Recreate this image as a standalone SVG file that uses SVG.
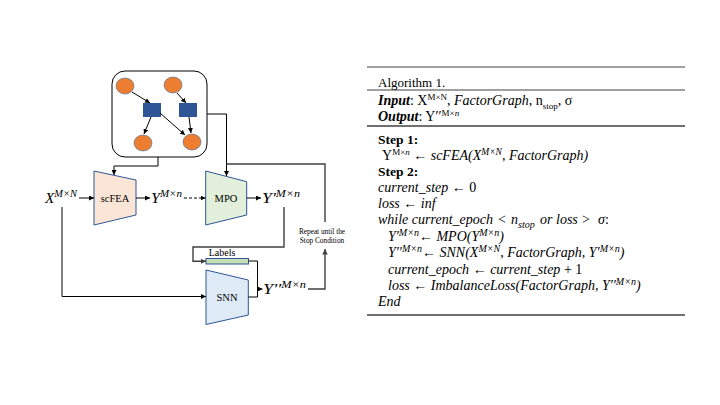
<svg xmlns="http://www.w3.org/2000/svg" width="720" height="405" viewBox="0 0 720 405">
<defs>
<marker id="ah" viewBox="0 0 10 10" refX="10" refY="5" markerWidth="5" markerHeight="5" markerUnits="userSpaceOnUse" orient="auto"><path d="M0,0 L10,5 L0,10 z" fill="#000"/></marker>
<marker id="ahg" viewBox="0 0 10 10" refX="10" refY="5" markerWidth="5.5" markerHeight="5.5" markerUnits="userSpaceOnUse" orient="auto"><path d="M0,0 L10,5 L0,10 z" fill="#404040"/></marker>
<style>
.ln{fill:none;stroke:#000;stroke-width:1}
.lg{fill:none;stroke:#404040;stroke-width:1.4}
.var{fill:#ed7d31;stroke:#41719c;stroke-width:0.6}
.fac{fill:#2f5597}
.trap{stroke:#2f5597;stroke-width:1}
.nt{font-family:"Liberation Serif",serif;font-size:10.5px;text-anchor:middle;fill:#000}
.mt{font-family:"Liberation Serif",serif;font-style:italic;font-size:14px;fill:#000}
.vt{font-family:"Liberation Serif",serif;font-style:italic;font-size:14px;fill:#000}
.at{font-family:"Liberation Serif",serif;font-size:13px;fill:#000}
.at14{font-family:"Liberation Serif",serif;font-size:14px;fill:#000}
.b{font-weight:bold}
.i{font-style:italic}
.u{font-style:normal}
.sm{font-family:"Liberation Serif",serif;font-size:7.3px;text-anchor:middle;fill:#000}
</style>
</defs>
<g id="factor-graph">
<rect x="112" y="71" width="95" height="86" rx="13" fill="#fff" stroke="#000" stroke-width="1"/>
<ellipse class="var" cx="125" cy="86" rx="9" ry="8"/>
<ellipse class="var" cx="173" cy="85" rx="9" ry="8"/>
<ellipse class="var" cx="143" cy="143" rx="9" ry="8"/>
<ellipse class="var" cx="192" cy="142" rx="9" ry="8"/>
<rect class="fac" x="143" y="103" width="18" height="14"/>
<rect class="fac" x="179" y="103" width="18" height="14"/>
<g class="ln" marker-end="url(#ah)">
<path d="M132,92 L150,103"/>
<path d="M177,93 L186,103"/>
<path d="M151,117 L144,134"/>
<path d="M160,113 L185,135"/>
<path d="M189,117 L191,133"/>
</g>
</g>
<g id="scFEA">
<polygon class="trap" points="94,171 136,180 136,215 94,225" fill="#fbe5d6"/>
<text class="nt" x="115" y="201.5">scFEA</text>
</g>
<g id="MPO">
<polygon class="trap" points="205.7,171 246.7,181.7 246.7,215 205.7,225" fill="#e2efda"/>
<text class="nt" x="226" y="201.5">MPO</text>
</g>
<g id="SNN">
<polygon class="trap" points="206,270 248.3,280 248.3,315 206,324.5" fill="#deebf7"/>
<text class="nt" x="227" y="300.5">SNN</text>
</g>
<g id="Labels">
<rect x="206" y="258.5" width="42.5" height="5.5" fill="#c5e0b4" stroke="#2f5597" stroke-width="1"/>
<text class="nt" x="222" y="255.5" style="font-size:10px">Labels</text>
</g>
<g id="labels-vars">
<text class="vt" x="45" y="202.5" textLength="32" lengthAdjust="spacingAndGlyphs">X<tspan dy="-5.5" font-size="9.5">M×N</tspan></text>
<text class="vt" x="151" y="202.5" textLength="31" lengthAdjust="spacingAndGlyphs">Y<tspan dy="-5.5" font-size="9.5">M×n</tspan></text>
<text class="vt" x="262" y="202.5" textLength="38" lengthAdjust="spacingAndGlyphs">Y′<tspan dy="-5.5" font-size="9.5">M×n</tspan></text>
<text class="vt" x="263" y="293.5" textLength="43" lengthAdjust="spacingAndGlyphs">Y′′<tspan dy="-5.5" font-size="9.5">M×n</tspan></text>
<text class="sm" x="322" y="234">Repeat until the</text>
<text class="sm" x="322" y="243">Stop Condition</text>
</g>
<g id="connectors">
<path class="ln" d="M158,157 V166 H114 V175" marker-end="url(#ah)"/>
<path class="ln" d="M207,114 H226.5 V176" marker-end="url(#ah)"/>
<path class="lg" d="M325,222 V164 H226.5"/>
<path class="lg" d="M308,289 H325 V249" marker-end="url(#ahg)"/>
<path class="ln" d="M79,198 H94" marker-end="url(#ah)"/>
<path class="ln" d="M62,207 V296.5 H206" marker-end="url(#ah)"/>
<path class="ln" d="M136,198 H150" marker-end="url(#ah)"/>
<path class="ln" d="M184,198 H205.5" stroke-dasharray="3,2" marker-end="url(#ah)"/>
<path class="ln" d="M246.7,198 H261" marker-end="url(#ah)"/>
<path class="lg" d="M284,207 V247 H193 V261.3 H206" marker-end="url(#ahg)"/>
<path class="ln" d="M248.5,261 H257.5 V297 H248.3"/>
<path class="ln" d="M257.5,289 H262.5" marker-end="url(#ah)"/>
</g>
<g id="algorithm">
<line x1="367" y1="67" x2="685" y2="67" stroke="#808080" stroke-width="1.3"/>
<line x1="367" y1="90" x2="685" y2="90" stroke="#808080" stroke-width="1.3"/>
<line x1="367" y1="126" x2="685" y2="126" stroke="#404040" stroke-width="1.3"/>
<line x1="367" y1="315" x2="685" y2="315" stroke="#404040" stroke-width="1.3"/>
<text class="at" x="378" y="87">Algorithm 1.</text>
<text class="at14" x="378" y="105"><tspan class="b i">Input</tspan>: X<tspan dy="-5" font-size="9">M×N</tspan><tspan dy="5">, </tspan><tspan class="i">FactorGraph</tspan>, n<tspan dy="3.5" font-size="9">stop</tspan><tspan dy="-3.5">, σ</tspan></text>
<text class="at14" x="378" y="121"><tspan class="b i">Output</tspan>: Y′′<tspan dy="-5" font-size="9">M×<tspan class="i">n</tspan></tspan></text>
<text class="at b" x="378" y="144" style="font-size:13.5px">Step 1:</text>
<text class="at14" x="382" y="160">Y<tspan dy="-5" font-size="9">M×<tspan class="i">n</tspan></tspan><tspan dy="5" class="i"> ← scFEA(X</tspan><tspan class="i" dy="-5" font-size="9.5">M×N</tspan><tspan class="i" dy="5">, FactorGraph)</tspan></text>
<text class="at b" x="378" y="176" style="font-size:13.5px">Step 2:</text>
<text class="mt" x="378" y="192">current_step <tspan class="u">← 0</tspan></text>
<text class="mt" x="378" y="208">loss <tspan class="u">←</tspan> inf</text>
<text class="mt" x="378" y="224">while current_epoch<tspan class="u" x="498">&lt;</tspan><tspan x="511">n</tspan><tspan dy="3.5" font-size="10">stop</tspan><tspan dy="-3.5" x="540">or</tspan><tspan x="556">loss</tspan><tspan class="u" x="582">&gt;</tspan><tspan x="598">σ</tspan><tspan class="u">:</tspan></text>
<text class="mt" x="388" y="241">Y′<tspan dy="-5" font-size="10">M×n</tspan><tspan dy="5" class="u">←</tspan> MPO(Y<tspan dy="-5" font-size="10">M×n</tspan><tspan dy="5">)</tspan></text>
<text class="mt" x="388" y="257">Y′′<tspan dy="-5" font-size="10">M×n</tspan><tspan dy="5" class="u">←</tspan> SNN(X<tspan dy="-5" font-size="10">M×N</tspan><tspan dy="5">, FactorGraph, Y′</tspan><tspan dy="-5" font-size="10">M×n</tspan><tspan dy="5">)</tspan></text>
<text class="mt" x="388" y="274">current_epoch <tspan class="u">←</tspan> current_step <tspan class="u">+ 1</tspan></text>
<text class="mt" x="388" y="290">loss <tspan class="u">←</tspan> ImbalanceLoss(FactorGraph, Y′′<tspan dy="-5" font-size="10">M×n</tspan><tspan dy="5">)</tspan></text>
<text class="mt" x="378" y="306">End</text>
</g>
</svg>
